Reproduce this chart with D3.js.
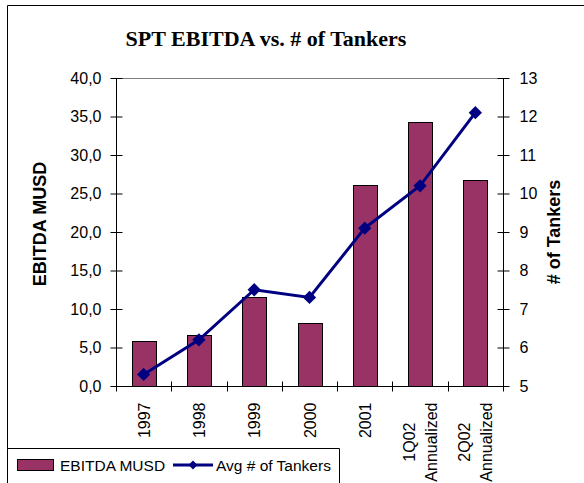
<!DOCTYPE html>
<html><head><meta charset="utf-8">
<script src="https://cdn.jsdelivr.net/npm/d3@7"></script>
<style>body{margin:0;background:#fff}svg{display:block}</style>
</head><body>
<script>
const categories = ["1997","1998","1999","2000","2001","1Q02\nAnnualized","2Q02\nAnnualized"];
const ebitda = [5.8, 6.6, 11.5, 8.2, 26.1, 34.3, 26.7];
const tankers = [5.3, 6.2, 7.5, 7.3, 9.1, 10.2, 12.1];
const leftTicks = [0,5,10,15,20,25,30,35,40];
const rightTicks = [5,6,7,8,9,10,11,12,13];
const title = "SPT EBITDA vs. # of Tankers";
const leftTitle = "EBITDA MUSD";
const rightTitle = "# of Tankers";
const seriesNames = ["EBITDA MUSD","Avg # of Tankers"];

const W=584,H=483;
const L=116,R=503,T=78,B=386;
const svg=d3.select("body").append("svg").attr("width",W).attr("height",H);
const font="Liberation Sans, Arial, sans-serif";

// outer frame
svg.append("path").attr("d",`M7.5,${H}V5.5H${W}`).attr("fill","none").attr("stroke","#000").attr("stroke-width",1);

svg.append("text").attr("x",266).attr("y",46).attr("text-anchor","middle")
  .attr("font-family","Liberation Serif, Times New Roman, serif").attr("font-weight","bold")
  .attr("font-size",22).text(title);

const x=d3.scaleBand().domain(categories).range([L,R]).paddingInner(0.566).paddingOuter(0.283);
const y=d3.scaleLinear().domain([0,40]).range([B,T]);
const y2=d3.scaleLinear().domain([5,13]).range([B,T]);

// top border of plot area
svg.append("line").attr("x1",L).attr("x2",R).attr("y1",T+0.5).attr("y2",T+0.5).attr("stroke","#808080");

// bars
svg.append("g").selectAll("rect").data(ebitda).join("rect")
  .attr("x",(d,i)=>Math.round(x(categories[i]))+0.5)
  .attr("width",Math.round(x.bandwidth()))
  .attr("y",d=>Math.round(y(d))+0.5)
  .attr("height",d=>B-Math.round(y(d)))
  .attr("fill","#993366").attr("stroke","#000").attr("stroke-width",1);

// left axis
const gl=svg.append("g").attr("transform",`translate(${L+0.5},0)`)
  .call(d3.axisLeft(y).tickValues(leftTicks).tickSize(6).tickPadding(9).tickFormat(d=>d3.format(".1f")(d).replace(".",",")));
gl.selectAll(".tick line").attr("x1",-6).attr("x2",6);
// right axis
const gr=svg.append("g").attr("transform",`translate(${R+0.5},0)`)
  .call(d3.axisRight(y2).tickValues(rightTicks).tickSize(6).tickPadding(10).tickFormat(d3.format("d")));
gr.selectAll(".tick line").attr("x1",-6).attr("x2",6);
[gl,gr].forEach(g=>{
  g.select(".domain").attr("d",`M0,${T}V${B}`).attr("stroke","#000");
  g.selectAll("text").attr("font-family",font).attr("font-size",16).attr("fill","#000");
  g.selectAll(".tick line").attr("stroke","#000");
});

// bottom axis
const gb=svg.append("g").attr("transform",`translate(0,${B+0.5})`);
gb.append("line").attr("x1",L).attr("x2",R+6).attr("stroke","#000");
const bounds=categories.map(c=>x(c)-x.step()*x.paddingInner()/2).concat([R]);
gb.selectAll("line.tk").data(bounds).join("line").attr("class","tk")
  .attr("x1",d=>Math.round(d)+0.5).attr("x2",d=>Math.round(d)+0.5).attr("y1",-5).attr("y2",5).attr("stroke","#000");
const lab=gb.selectAll("g.lab").data(categories).join("g").attr("class","lab")
  .attr("transform",d=>`translate(${x(d)+x.bandwidth()/2},16) rotate(-90)`);
lab.each(function(d){
  const lines=d.split("\n");
  const g=d3.select(this);
  const n=lines.length;
  const ts=lines.map((s,i)=>g.append("text").attr("font-family",font).attr("font-size",16)
    .attr("y",(i-(n-1)/2)*22+6).text(s));
  const widths=ts.map(t=>t.node().getComputedTextLength());
  const mw=Math.max(...widths);
  ts.forEach(t=>t.attr("text-anchor","middle").attr("x",-mw/2));
});

// line
const line=d3.line().x((d,i)=>x(categories[i])+x.bandwidth()/2).y(d=>y2(d));
svg.append("path").datum(tankers).attr("d",line).attr("fill","none").attr("stroke","#000080").attr("stroke-width",3);
svg.append("g").selectAll("path").data(tankers).join("path")
  .attr("transform",(d,i)=>`translate(${x(categories[i])+x.bandwidth()/2},${y2(d)}) rotate(45)`)
  .attr("d",d3.symbol().type(d3.symbolSquare).size(88)).attr("fill","#000080");

// axis titles
svg.append("text").attr("transform",`translate(46,224) rotate(-90)`).attr("text-anchor","middle")
  .attr("font-family",font).attr("font-weight","bold").attr("font-size",18).text(leftTitle);
svg.append("text").attr("transform",`translate(560,232) rotate(-90)`).attr("text-anchor","middle")
  .attr("font-family",font).attr("font-weight","bold").attr("font-size",18).text(rightTitle);

// legend
const lg=svg.append("g");
lg.append("path").attr("d",`M7.5,${H}V448.5H339.5V${H}`).attr("fill","#fff").attr("stroke","#000");
lg.append("rect").attr("x",17.5).attr("y",459.5).attr("width",36).attr("height",11).attr("fill","#993366").attr("stroke","#000");
lg.append("text").attr("x",60).attr("y",471).attr("font-family",font).attr("font-size",15.5).text(seriesNames[0]);
lg.append("line").attr("x1",173).attr("x2",213).attr("y1",465).attr("y2",465).attr("stroke","#000080").attr("stroke-width",3);
lg.append("path").attr("transform","translate(193,465) rotate(45)").attr("d",d3.symbol().type(d3.symbolSquare).size(40)).attr("fill","#000080");
lg.append("text").attr("x",216).attr("y",471).attr("font-family",font).attr("font-size",15.5).text(seriesNames[1]);
</script>
</body></html>
